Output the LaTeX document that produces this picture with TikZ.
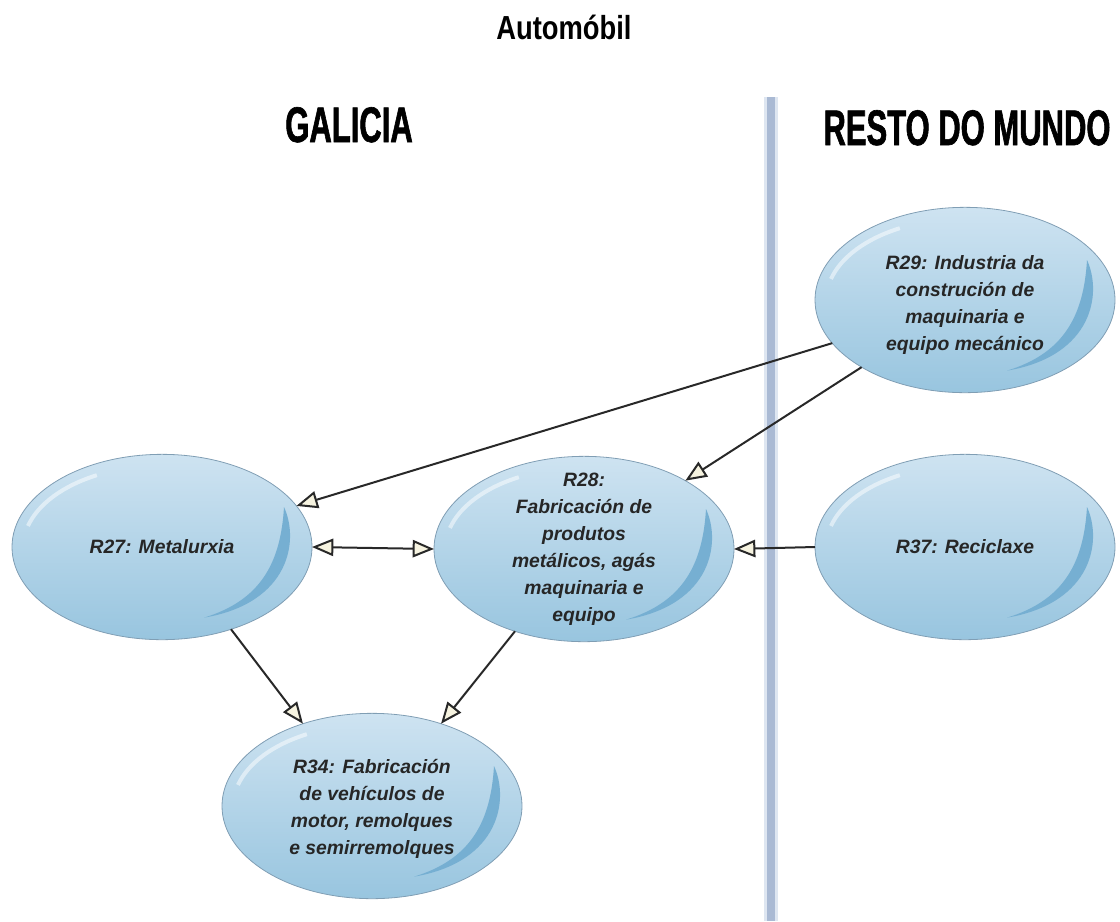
\documentclass[tikz,border=0pt]{standalone}
\usepackage{fontspec}
\setmainfont{Liberation Sans}
\newfontfamily\titlefont[FakeStretch=0.82]{Liberation Sans}
\newfontfamily\headfont[FakeStretch=0.62,FakeBold=1.2]{Liberation Sans}
\usetikzlibrary{arrows.meta,shapes.geometric}

\definecolor{bubbletop}{RGB}{206,227,241}
\definecolor{bubblebot}{RGB}{152,197,223}
\definecolor{bubbleedge}{RGB}{128,158,180}
\definecolor{crescent}{RGB}{118,175,210}
\definecolor{tipfill}{RGB}{246,243,224}
\definecolor{linkgray}{RGB}{40,40,40}
\definecolor{divider}{RGB}{170,186,212}
\definecolor{dividerglow}{RGB}{222,230,241}

\begin{document}
\begin{tikzpicture}[x=0.75pt, y=-0.75pt, >={Triangle[length=16pt,width=13pt,fill=tipfill]},
  sector/.style={ellipse, draw=bubbleedge, line width=0.6pt,
    top color=bubbletop, bottom color=bubblebot,
    minimum width=225pt, minimum height=139pt, inner sep=0pt, outer sep=0pt,
    path picture={
      \begin{scope}[shift={(path picture bounding box.center)}]
        \fill[crescent] (91.5pt,30pt) .. controls (103pt,5pt) and (96pt,-42pt) .. (31.5pt,-53pt)
          .. controls (74pt,-40pt) and (89pt,-12pt) .. cycle;
        \draw[white, opacity=0.5, line width=3pt] (-100.5pt,15.8pt)
          arc[start angle=165, end angle=118, x radius=104pt, y radius=61pt];
      \end{scope}}},
  sectortext/.style={font=\fontsize{14.5}{20.3}\selectfont\bfseries\itshape,
    text=black!85, align=center, inner sep=0pt},
  link/.style={->, draw=linkgray, line width=1.5pt},
  header/.style={font=\headfont\bfseries\fontsize{37.5}{40}\selectfont, anchor=base}]

  \useasboundingbox (0,0) rectangle (1120,921);

  % titles
  \node[font=\titlefont\bfseries\fontsize{25}{30}\selectfont, anchor=base] (title) at (564,39) {Automóbil};
  \node[header] (galicia) at (349,142) {GALICIA};
  \node[header] (resto) at (967,145) {RESTO DO MUNDO};

  % border between the two regions
  \fill[dividerglow] (764,97) rectangle (778,921);
  \fill[divider] (767,97) rectangle (775,921);

  % sectors
  \node[sector] (r29) at (965,300) {};
  \node[sector] (r27) at (162,547) {};
  \node[sector] (r28) at (584,549) {};
  \node[sector] (r37) at (965,547) {};
  \node[sector] (r34) at (372,806) {};

  \node[sectortext] (r29txt) at ([yshift=-4pt]r29.center) {R29: Industria da\\construción de\\maquinaria e\\equipo mecánico};
  \node[sectortext] (r27txt) at (r27.center) {R27: Metalurxia};
  \node[sectortext] (r28txt) at (r28.center) {R28:\\Fabricación de\\produtos\\metálicos, agás\\maquinaria e\\equipo};
  \node[sectortext] (r37txt) at (r37.center) {R37: Reciclaxe};
  \node[sectortext] (r34txt) at ([yshift=-2pt]r34.center) {R34: Fabricación\\de vehículos de\\motor, remolques\\e semirremolques};

  % flows
  \draw[link] (r29.198) -- (r27.17);
  \draw[link] (r29.213) -- (r28.34);
  \draw[link, <->] (r27.east) -- (r28.west);
  \draw[link] (r37.west) -- (r28.east);
  \draw[link] (r27.-50) -- (r34.130);
  \draw[link] (r28.-130) -- (r34.50);

\end{tikzpicture}
\end{document}
